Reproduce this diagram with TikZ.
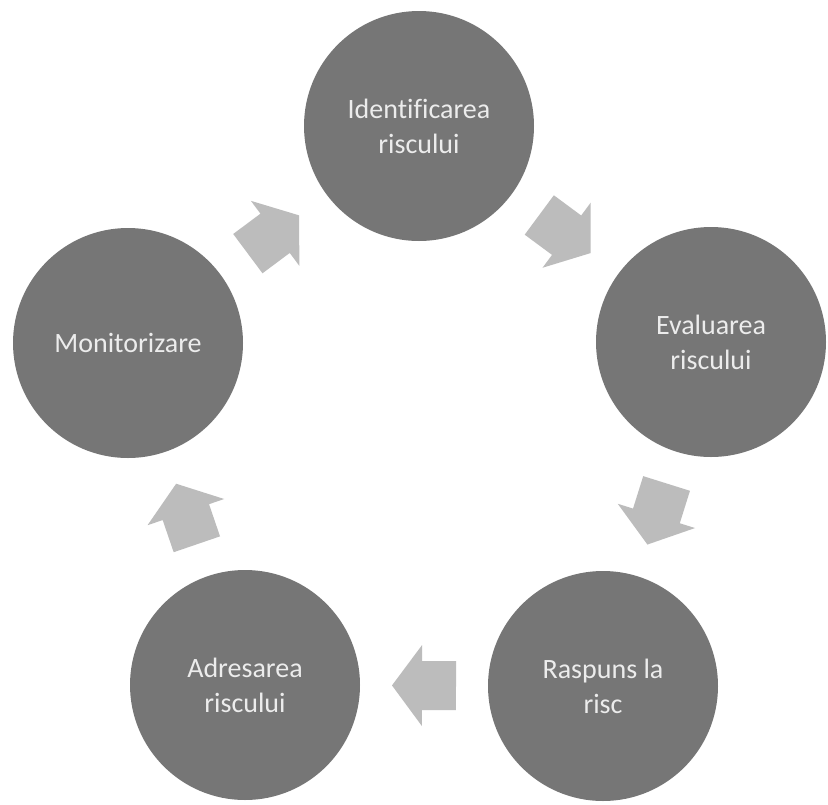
\documentclass[tikz,border=0pt]{standalone}
\usepackage{fontspec}
\setmainfont[Ligatures=NoCommon]{Carlito}
\usetikzlibrary{calc}
\definecolor{discfill}{RGB}{118,118,118}
\definecolor{arrowfill}{RGB}{188,188,188}
\definecolor{disctext}{RGB}{236,236,236}
\tikzset{
  disc/.style={circle, fill=discfill, minimum size=230pt, inner sep=0pt,
    text=disctext, font=\fontsize{28}{35}\selectfont, align=center},
  blockarrow/.style={fill=arrowfill}
}
\newcommand\cyclearrow[3]{% #1 from node, #2 to node, #3 name prefix
  \coordinate (#3m) at ($(#1)!0.5!(#2)$);
  \coordinate (#3t) at ($(#3m)!-32pt!(#2)$);
  \coordinate (#3h) at ($(#3m)!2pt!(#2)$);
  \coordinate (#3p) at ($(#3m)!32pt!(#2)$);
  \fill[blockarrow] ($(#3t)!24.5pt!90:(#2)$) -- ($(#3h)!24.5pt!90:(#2)$)
    -- ($(#3h)!40.5pt!90:(#2)$) -- (#3p) -- ($(#3h)!40.5pt!-90:(#2)$)
    -- ($(#3h)!24.5pt!-90:(#2)$) -- ($(#3t)!24.5pt!-90:(#2)$) -- cycle;
}
\begin{document}
\begin{tikzpicture}[x=1pt,y=1pt]
  \useasboundingbox (0,0) rectangle (828,-804);
  \fill[white] (0,0) rectangle (828,-804);
  \begin{scope}
    \clip (0,0) rectangle (828,-804);
    \node[disc] (ident) at (419,-126) {Identificarea\\riscului};
    \node[disc] (eval) at (711,-342) {Evaluarea\\riscului};
    \node[disc] (resp) at (603,-686) {Raspuns la\\risc};
    \node[disc] (adr) at (245,-685) {Adresarea\\riscului};
    \node[disc] (mon) at (128,-343) {Monitorizare};
    \cyclearrow{ident}{eval}{a1}
    \cyclearrow{eval}{resp}{a2}
    \cyclearrow{resp}{adr}{a3}
    \cyclearrow{adr}{mon}{a4}
    \cyclearrow{mon}{ident}{a5}
  \end{scope}
\end{tikzpicture}
\end{document}
